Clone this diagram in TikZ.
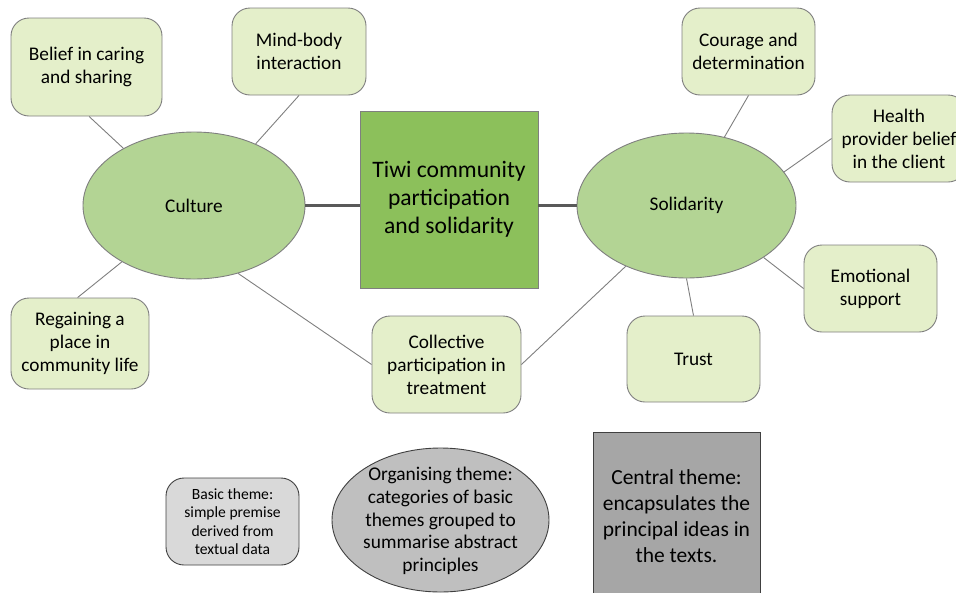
\documentclass[tikz,border=0pt]{standalone}
\usepackage{fontspec}
\setmainfont{Carlito}
\usetikzlibrary{shapes.geometric}
\definecolor{leaf}{HTML}{E4EFCA}
\definecolor{theme}{HTML}{B3D494}
\definecolor{core}{HTML}{8CC05B}
\definecolor{edgegray}{HTML}{7F7F7F}
\definecolor{darkline}{HTML}{595959}
\definecolor{legdark}{HTML}{404040}
\tikzset{
  leafbox/.style={draw=edgegray, line width=0.9pt, fill=leaf, rounded corners=18pt, align=center, inner sep=1pt,
    font=\fontsize{19.3}{23}\selectfont},
  themeell/.style={ellipse, draw=edgegray, line width=0.9pt, fill=theme, inner sep=0pt,
    font=\fontsize{19.3}{23}\selectfont},
  corebox/.style={draw=edgegray, line width=0.9pt, fill=core, align=center,
    font=\fontsize{23.6}{28}\selectfont},
  conn/.style={draw=edgegray, line width=0.9pt},
  thick conn/.style={draw=darkline, line width=2.6pt},
}
\begin{document}
\begin{tikzpicture}[x=1pt,y=-1pt]
\useasboundingbox (0,0) rectangle (956,592);
\clip (0,0) rectangle (956,592);

% Theme ellipses and core
\node[themeell, minimum width=222pt, minimum height=147pt] (culture) at (194,205.5) {Culture};
\node[themeell, minimum width=219pt, minimum height=145pt] (solid) at (686.5,205.5) {Solidarity};
\node[corebox, minimum width=178pt, minimum height=177pt] (core) at (449,199.5) {Tiwi community\\participation\\and solidarity};

% Basic themes
\node[leafbox, minimum width=151pt, minimum height=98pt] (belief) at (86.5,67) {Belief in caring\\and sharing};
\node[leafbox, minimum width=134pt, minimum height=87pt] (mind) at (299,51.5) {Mind-body\\interaction};
\node[leafbox, minimum width=138pt, minimum height=91pt] (regain) at (80,343.5) {Regaining a\\place in\\community life};
\node[leafbox, minimum width=149pt, minimum height=97pt] (collect) at (446.5,364.5) {Collective\\participation in\\treatment};
\node[leafbox, minimum width=133pt, minimum height=87pt] (courage) at (748.5,51.5) {Courage and\\determination};
\node[leafbox, minimum width=134pt, minimum height=87pt] (health) at (899,138.5) {Health\\provider belief\\in the client};
\node[leafbox, minimum width=133pt, minimum height=87pt] (emot) at (870.5,288.5) {Emotional\\support};
\node[leafbox, minimum width=133pt, minimum height=86pt] (trust) at (693.5,359) {Trust};

% Connectors
\draw[thick conn] (culture.east) -- (culture.east -| core.west);
\draw[thick conn] (solid.west -| core.east) -- (solid.west);
\draw[conn] (culture.141.6) -- (belief.273.5);
\draw[conn] (culture.45.9) -- (mind.south);
\draw[conn] (culture.218.9) -- (regain.93.8);
\draw[conn] (culture.303.5) -- (collect.west);
\draw[conn] (solid.225.5) -- (collect.east);
\draw[conn] (solid.south) -- (trust.north);
\draw[conn] (solid.61.2) -- (courage.south);
\draw[conn] (solid.19.1) -- (health.west);
\draw[conn] (solid.-34.5) -- (emot.west);

% Legend
\node[draw=legdark, line width=0.9pt, fill=black!15, rounded corners=18pt, align=center, inner sep=1pt,
  minimum width=133pt, minimum height=87pt, font=\fontsize{15.6}{18.5}\selectfont] (basic) at (232.5,521.5)
  {Basic theme:\\simple premise\\derived from\\textual data};
\node[ellipse, draw=legdark, line width=0.9pt, fill=black!25, minimum width=217pt, minimum height=144pt, inner sep=0pt] (org) at (440.5,520) {};
\node[align=center, font=\fontsize{19.4}{22.8}\selectfont] (orgtxt) at (440.5,521)
  {Organising theme:\\categories of basic\\themes grouped to\\summarise abstract\\principles};
\node[draw=legdark, line width=0.9pt, fill=black!35, minimum width=167pt, minimum height=168pt] (centralbox) at (676.5,516) {};
\node[align=center, font=\fontsize{21.5}{26}\selectfont] (centraltxt) at (676.5,516)
  {Central theme:\\encapsulates the\\principal ideas in\\the texts.};
\end{tikzpicture}
\end{document}
